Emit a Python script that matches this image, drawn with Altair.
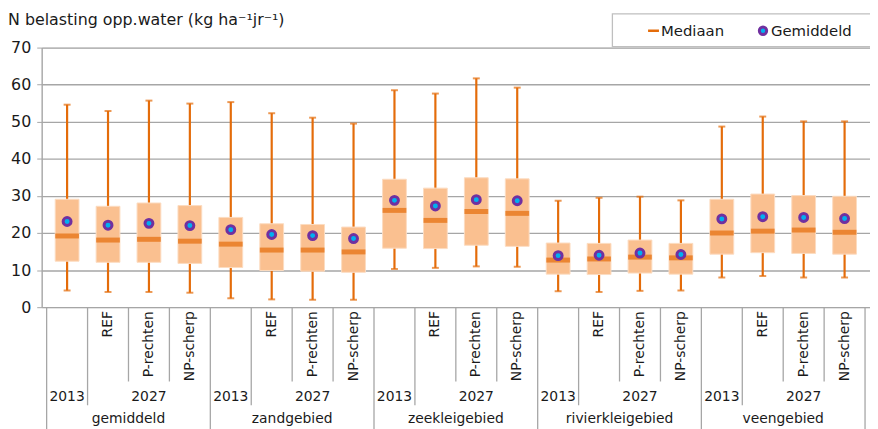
import altair as alt
import pandas as pd

# ---------------- data ----------------
groups = ["gemiddeld", "zandgebied", "zeekleigebied", "rivierkleigebied", "veengebied"]
scenarios = ["2013", "REF", "P-rechten", "NP-scherp"]
scenario_labels = ["", "REF", "P-rechten", "NP-scherp"]
years = ["2013", "2027"]
title_text = "N belasting opp.water (kg ha⁻¹jr⁻¹)"
legend_labels = ["Mediaan", "Gemiddeld"]
y_ticks = [0, 10, 20, 30, 40, 50, 60, 70]

low = [4.5, 4.1, 4.1, 3.9, 2.4, 2.1, 2.0, 2.0, 10.3, 10.6, 11.0, 10.9,
       4.3, 4.1, 4.4, 4.5, 8.0, 8.4, 8.0, 8.0]
q1 = [12.4, 12.1, 12.1, 11.8, 10.7, 9.9, 9.7, 9.4, 15.9, 15.8, 16.7, 16.4,
      8.9, 8.8, 9.2, 8.9, 14.3, 14.7, 14.5, 14.3]
median = [19.2, 18.1, 18.3, 17.8, 17.0, 15.4, 15.4, 14.9, 26.1, 23.4, 25.8, 25.3,
          12.7, 13.0, 13.5, 13.3, 20.0, 20.5, 20.8, 20.2]
q3 = [29.1, 27.2, 28.1, 27.4, 24.2, 22.5, 22.3, 21.6, 34.5, 32.1, 34.9, 34.6,
      17.3, 17.2, 18.1, 17.2, 29.1, 30.5, 30.1, 29.9]
high = [54.6, 52.9, 55.7, 54.9, 55.3, 52.3, 51.1, 49.5, 58.5, 57.6, 61.7, 59.2,
        28.7, 29.5, 29.8, 28.8, 48.7, 51.4, 50.1, 50.1]
mean = [23.1, 22.1, 22.6, 22.0, 20.9, 19.6, 19.3, 18.5, 28.8, 27.3, 29.0, 28.7,
        13.9, 14.0, 14.6, 14.2, 23.8, 24.4, 24.2, 23.9]

# ---------------- tables ----------------
rows = []
for g, grp in enumerate(groups):
    for s, sc in enumerate(scenarios):
        i = g * 4 + s
        rows.append(dict(idx=i, group=grp, scenario=sc, label=scenario_labels[s],
                         low=low[i], q1=q1[i], median=median[i], q3=q3[i],
                         high=high[i], mean=mean[i]))
df = pd.DataFrame(rows)

year_rows = []
group_rows = []
sep_rows = []
for g, grp in enumerate(groups):
    base0 = g * 4
    year_rows.append(dict(x=base0, t=years[0]))
    year_rows.append(dict(x=base0 + 2, t=years[1]))
    group_rows.append(dict(x=base0 + 1.5, t=grp))
    sep_rows.append(dict(x=base0 - 0.5, kind="group"))
    sep_rows.append(dict(x=base0 + 0.5, kind="year"))
    sep_rows.append(dict(x=base0 + 1.5, kind="scen"))
    sep_rows.append(dict(x=base0 + 2.5, kind="scen"))
sep_rows.append(dict(x=len(groups) * 4 - 0.5, kind="group"))
year_df = pd.DataFrame(year_rows)
group_df = pd.DataFrame(group_rows)
sep_df = pd.DataFrame(sep_rows)

# ---------------- styling ----------------
W, H = 836, 262
FONT = "DejaVu Sans"
ORANGE = "#E46C0A"
PEACH = "#FAC090"
PURPLE = "#7030A0"
CYAN = "#00B0F0"
GRID = "#A6A6A6"
TXT = "#1a1a1a"

xs = alt.Scale(domain=[-0.5, 19.5], nice=False, zero=False)
ys = alt.Scale(domain=[0, 70], nice=False)
X = alt.X("idx:Q", scale=xs, axis=None)

yaxis = alt.Axis(values=y_ticks, tickCount=8, labelOverlap=False, grid=True,
                 gridColor=GRID, gridWidth=1.3,
                 domainColor=GRID, domainWidth=1.3, tickColor=GRID, tickSize=5,
                 labelFont=FONT, labelFontSize=16, labelColor=TXT, labelPadding=6,
                 title=None)


def Y(field):
    return alt.Y(f"{field}:Q", scale=ys, axis=yaxis)


base = alt.Chart(df)

whisker = base.mark_rule(color=ORANGE, strokeWidth=2.2).encode(
    x=X, y=Y("low"), y2="high:Q")
cap_lo = base.mark_tick(color=ORANGE, thickness=2, size=7, orient="horizontal").encode(
    x=X, y=Y("low"))
cap_hi = base.mark_tick(color=ORANGE, thickness=2, size=7, orient="horizontal").encode(
    x=X, y=Y("high"))
box = base.mark_bar(color=PEACH, stroke="#FCDCC0", strokeWidth=1, size=24).encode(
    x=X, y=Y("q1"), y2="q3:Q")
med = base.mark_tick(color=ORANGE, thickness=5, size=24, orient="horizontal").encode(
    x=X, y=Y("median"))
mn = base.mark_point(shape="circle", filled=True, fill=CYAN, stroke=PURPLE, strokeWidth=3,
                     size=64, opacity=1).encode(
    x=X, y=Y("mean"))

# x-axis (multi level) labels and separators
sep_len = {"group": H + 125, "year": H + 99, "scen": H + 75}
seps = []
for kind, L in sep_len.items():
    seps.append(alt.Chart(sep_df).transform_filter(alt.datum.kind == kind)
                .mark_rule(color=GRID, strokeWidth=1.3)
                .encode(x=alt.X("x:Q", scale=xs, axis=None), y=alt.value(H), y2=alt.value(L)))

scen_txt = base.mark_text(angle=270, align="right", baseline="middle", font=FONT,
                          fontSize=14, color=TXT).encode(
    x=X, y=alt.value(H + 4), text="label:N")
year_txt = alt.Chart(year_df).mark_text(baseline="middle", font=FONT, fontSize=14,
                                         color=TXT).encode(
    x=alt.X("x:Q", scale=xs, axis=None), y=alt.value(H + 91), text="t:N")
group_txt = alt.Chart(group_df).mark_text(baseline="middle", font=FONT, fontSize=14,
                                           color=TXT).encode(
    x=alt.X("x:Q", scale=xs, axis=None), y=alt.value(H + 113), text="t:N")

# title
title = alt.Chart(pd.DataFrame({"t": [title_text]})).mark_text(
    align="left", baseline="middle", font=FONT, fontSize=16, color=TXT).encode(
    x=alt.value(-34), y=alt.value(-28), text="t:N")

# legend
leg_df = pd.DataFrame({"t": legend_labels})
leg_box = alt.Chart(leg_df.head(1)).mark_rect(fill="white", stroke="#BFBFBF",
                                               strokeWidth=1.3).encode(
    x=alt.value(576), x2=alt.value(W + 20), y=alt.value(-34), y2=alt.value(-1))
leg_dash = alt.Chart(leg_df.head(1)).mark_rule(color=ORANGE, strokeWidth=2.5).encode(
    x=alt.value(612), x2=alt.value(623), y=alt.value(-17))
leg_t1 = alt.Chart(leg_df.head(1)).mark_text(align="left", baseline="middle", font=FONT,
                                             fontSize=15, color=TXT).encode(
    x=alt.value(625), y=alt.value(-17), text="t:N")
leg_dot = alt.Chart(leg_df.tail(1)).mark_point(shape="circle", filled=True, fill=CYAN,
                                               stroke=PURPLE, strokeWidth=3, size=55,
                                               opacity=1).encode(
    x=alt.value(728), y=alt.value(-17))
leg_t2 = alt.Chart(leg_df.tail(1)).mark_text(align="left", baseline="middle", font=FONT,
                                             fontSize=15, color=TXT).encode(
    x=alt.value(736), y=alt.value(-17), text="t:N")

chart = alt.layer(
    whisker, *seps, cap_lo, cap_hi, box, med, mn,
    scen_txt, year_txt, group_txt, title,
    leg_box, leg_dash, leg_t1, leg_dot, leg_t2
).properties(
    width=W, height=H,
    autosize=alt.AutoSizeParams(type="none"),
    padding={"left": 34, "top": 38, "right": 0, "bottom": 121},
).configure_view(stroke=None).configure(background="white")

chart.save("out.html", embed_options={"renderer": "svg", "actions": False})
